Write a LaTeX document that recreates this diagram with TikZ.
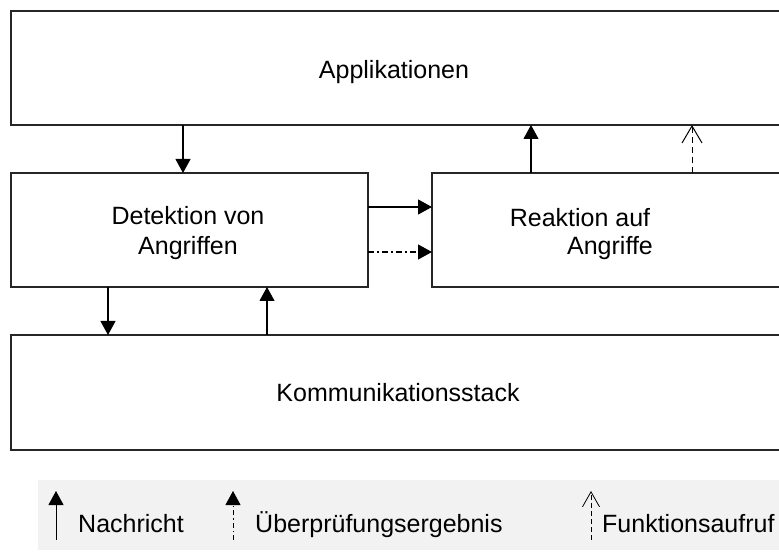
\documentclass[tikz,border=0pt]{standalone}
\usepackage{fontspec}
\setmainfont{Liberation Sans}
\usetikzlibrary{arrows.meta}
\begin{document}
\begin{tikzpicture}[x=1pt,y=-1pt,
  box/.style={draw=black!85,line width=1.4pt,rectangle,inner sep=0pt,outer sep=0pt},
  txt/.style={font=\fontsize{25}{30}\selectfont,align=center,inner sep=0pt},
  msg/.style={line width=1.1pt,-{Triangle[length=14pt,width=15pt]}},
  chk/.style={line width=1.1pt,dash pattern=on 6pt off 3pt on 2pt off 3pt,-{Triangle[length=14pt,width=15pt]}},
  call/.style={line width=1pt,dash pattern=on 6pt off 4pt,-{Straight Barb[length=17pt,width=20pt,line width=1pt]}},
  lchk/.style={line width=0.8pt,dash pattern=on 5pt off 3pt on 1.5pt off 3pt,-{Triangle[length=14pt,width=15pt]}},
  lcall/.style={line width=0.8pt,dash pattern=on 5pt off 3pt,-{Straight Barb[length=15pt,width=17pt,line width=0.8pt]}}]
\useasboundingbox (0,0) rectangle (779,553);
\fill[white] (0,0) rectangle (779,553);
% boxes
\node[box,minimum width=770pt,minimum height=114pt] (app) at (396,68) {};
\node[box,minimum width=357pt,minimum height=114pt] (det) at (189.5,230) {};
\node[box,minimum width=349pt,minimum height=114pt] (rea) at (606.5,230) {};
\node[box,minimum width=770pt,minimum height=115pt] (kom) at (396,392.5) {};
% texts
\node[txt] (tapp) at (394,72) {Applikationen};
\node[txt] (tdet) at (188,233) {Detektion von\\Angriffen};
\node[txt] (trea1) at (580,218) {Reaktion auf};
\node[txt] (trea2) at (610,248) {Angriffe};
\node[txt] (tkom) at (398,393) {Kommunikationsstack};
% connectors
\draw[msg] (app.south -| 183,0) -- (det.north -| 183,0);
\draw[msg] (rea.north -| 531,0) -- (app.south -| 531,0);
\draw[call] (rea.north -| 692,0) -- (app.south -| 692,0);
\draw[msg] (det.east |- 0,207) -- (rea.west |- 0,207);
\draw[chk] (det.east |- 0,252) -- (rea.west |- 0,252);
\draw[msg] (det.south -| 108,0) -- (kom.north -| 108,0);
\draw[msg] (kom.north -| 267,0) -- (det.south -| 267,0);
% legend
\node[fill=black!5,draw=none,minimum width=743pt,minimum height=70pt,inner sep=0pt] (leg) at (409.5,515) {};
\coordinate (l1a) at (56,540); \coordinate (l1b) at (56,491);
\coordinate (l2a) at (233,540); \coordinate (l2b) at (233,491);
\coordinate (l3a) at (591,540); \coordinate (l3b) at (591,491);
\draw[msg,line width=0.9pt] (l1a) -- (l1b);
\draw[lchk] (l2a) -- (l2b);
\draw[lcall] (l3a) -- (l3b);
\node[txt,anchor=base west] (n1) at (78,532) {Nachricht};
\node[txt,anchor=base west] (n2) at (255,532) {Überprüfungsergebnis};
\node[txt,anchor=base west] (n3) at (602,532) {Funktionsaufruf};
\end{tikzpicture}
\end{document}
